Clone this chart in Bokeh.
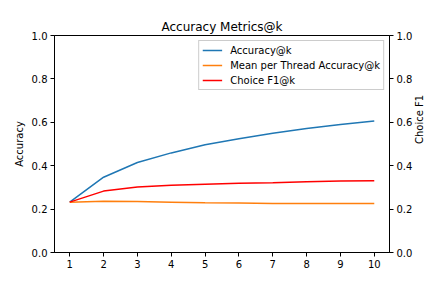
import math
from bokeh.plotting import figure
from bokeh.models import Range1d, LinearAxis, FixedTicker, PrintfTickFormatter
from bokeh.embed import file_html
from bokeh.resources import INLINE

k = [1, 2, 3, 4, 5, 6, 7, 8, 9, 10]
accuracy = [0.232, 0.347, 0.415, 0.459, 0.497, 0.524, 0.550, 0.571, 0.590, 0.606]
mean_thread_accuracy = [0.232, 0.236, 0.235, 0.232, 0.229, 0.228, 0.226, 0.226, 0.226, 0.226]
choice_f1 = [0.232, 0.283, 0.302, 0.310, 0.315, 0.319, 0.322, 0.326, 0.329, 0.331]
x_ticks = [1, 2, 3, 4, 5, 6, 7, 8, 9, 10]
y_ticks = [0.0, 0.2, 0.4, 0.6, 0.8, 1.0]

FONT = "DejaVu Sans"

p = figure(frame_width=335, frame_height=217, output_backend="svg", toolbar_location=None,
           x_range=Range1d(0.55, 10.45), y_range=Range1d(0, 1),
           title="Accuracy Metrics@k",
           min_border_left=54, min_border_right=42, min_border_top=35, min_border_bottom=35)
p.extra_y_ranges = {"f1": Range1d(0, 1)}
right_axis = LinearAxis(y_range_name="f1", axis_label="Choice F1")
p.add_layout(right_axis, "right")
try:
    right_axis.axis_label_orientation = math.pi / 2
except Exception:
    pass

p.line(k, accuracy, line_color="#1f77b4", line_width=1.5, legend_label="Accuracy@k")
p.line(k, mean_thread_accuracy, line_color="#ff7f0e", line_width=1.5, legend_label="Mean per Thread Accuracy@k")
p.line(k, choice_f1, line_color="#ff0000", line_width=1.5, legend_label="Choice F1@k", y_range_name="f1")

p.title.align = "center"
p.title.text_font = FONT
p.title.text_font_size = "12px"
p.title.text_font_style = "normal"
p.title.text_color = "black"
p.title.standoff = 4

p.yaxis[0].axis_label = "Accuracy"
p.xgrid.visible = False
p.ygrid.visible = False
p.outline_line_color = "black"
p.outline_line_width = 1
p.outline_line_alpha = 1

for ax in p.xaxis:
    ax.ticker = FixedTicker(ticks=x_ticks)
for ax in p.yaxis:
    ax.ticker = FixedTicker(ticks=y_ticks)
    ax.formatter = PrintfTickFormatter(format="%.1f")

for ax in list(p.xaxis) + list(p.yaxis):
    ax.axis_line_color = "black"
    ax.axis_line_width = 1
    ax.major_tick_line_color = "black"
    ax.major_tick_in = 0
    ax.major_tick_out = 4
    ax.minor_tick_line_color = None
    ax.major_label_text_font = FONT
    ax.major_label_text_font_size = "10px"
    ax.major_label_text_color = "black"
    ax.major_label_standoff = 3
    ax.axis_label_text_font = FONT
    ax.axis_label_text_font_size = "10px"
    ax.axis_label_text_font_style = "normal"
    ax.axis_label_text_color = "black"
    ax.axis_label_standoff = 5

p.yaxis[0].axis_label_standoff = 4
right_axis.axis_label_standoff = 4

p.legend.location = "top_right"
p.legend.margin = 5
p.legend.padding = 3
p.legend.spacing = 3
p.legend.glyph_width = 20
p.legend.glyph_height = 12
p.legend.label_height = 12
p.legend.label_standoff = 8
p.legend.label_text_font = FONT
p.legend.label_text_font_size = "10px"
p.legend.label_text_color = "black"
p.legend.border_line_color = "#cccccc"
p.legend.border_line_alpha = 1
p.legend.background_fill_alpha = 0.8

open("out.html", "w").write(file_html(p, INLINE))
